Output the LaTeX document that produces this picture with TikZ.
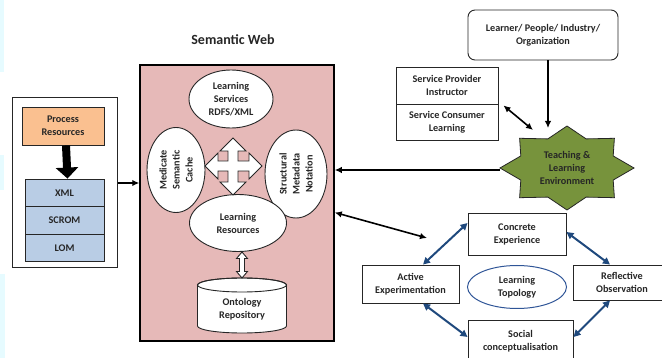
\documentclass[tikz,border=0pt]{standalone}
\usepackage{fontspec}
\setmainfont{Carlito}
\usetikzlibrary{shapes.geometric,arrows.meta,calc}
\definecolor{pinkbg}{HTML}{E6B9B8}
\definecolor{peach}{HTML}{FAC090}
\definecolor{lblue}{HTML}{B9CDE5}
\definecolor{olivegreen}{HTML}{77933C}
\definecolor{navy}{HTML}{1F497D}
\definecolor{topo}{HTML}{2F5597}
\definecolor{ink}{HTML}{262626}
\definecolor{cyanfog}{HTML}{E6FBFF}
\begin{document}
\begin{tikzpicture}[x=1pt,y=-1pt,
  txt/.style={font=\bfseries\fontsize{10.2}{13}\selectfont, align=center, text=ink},
  box/.style={txt, draw=ink, line width=0.9pt, rectangle, inner sep=0pt},
  oval/.style={txt, draw=ink, line width=0.9pt, ellipse, fill=white, inner sep=0pt},
  blk/.style={draw=black, line width=1.6pt, -{Latex[length=7pt,width=6.5pt]}},
  blktwo/.style={draw=black, line width=1.6pt, {Latex[length=7pt,width=6.5pt]}-{Latex[length=7pt,width=6.5pt]}},
  blutwo/.style={draw=navy, line width=2pt, {Triangle[length=7pt,width=7pt]}-{Triangle[length=7pt,width=7pt]}},
  hollow/.style={draw=ink, fill=white, line width=0.9pt, line join=miter},
]
\useasboundingbox (0,0) rectangle (662,358);
\clip (0,0) rectangle (662,358);

% faint background strips at the left edge
\fill[cyanfog] (0,0) rectangle (4,72);
\fill[cyanfog] (0,155) rectangle (4,190);
\fill[cyanfog] (0,274) rectangle (5,358);

% ---------- left block ----------
\node[draw=ink, line width=1pt, minimum width=105, minimum height=170] (lo) at (64.5,183) {};
\node[box, fill=peach, minimum width=82, minimum height=38] (pr) at (63,126) {Process\\Resources};
\node[box, fill=lblue, minimum width=79, minimum height=27.5] (xml) at (64.5,192.75) {XML};
\node[box, fill=lblue, minimum width=79, minimum height=27.5] (scrom) at (64.5,220.25) {SCROM};
\node[box, fill=lblue, minimum width=79, minimum height=27.5] (lom) at (64.5,247.75) {LOM};
\draw[line width=8pt, draw=black, -{Triangle[length=11pt,width=22pt]}] ([xshift=3pt]pr.south) -- ([xshift=3pt]xml.north);

% ---------- semantic web ----------
\node[font=\bfseries\fontsize{14}{16}\selectfont, text=ink] (title) at (233,40) {Semantic Web};
\node[draw=black, fill=pinkbg, line width=1.5pt, minimum width=194, minimum height=276] (sw) at (237,203) {};
\draw[blk] (lo.east) -- (sw.west |- lo.east);

\node[oval, minimum width=84, minimum height=58] (ls) at (231,99) {Learning\\Services\\RDFS/XML};
\node[oval, rotate=90, minimum width=85, minimum height=58] (mc) at (176,170) {Medicate\\Semantic\\Cache};
\node[oval, rotate=90, minimum width=88, minimum height=62] (smn) at (296,174) {Structural\\Metadata\\Notation};
\node[oval, minimum width=97, minimum height=57] (lr) at (238,223) {Learning\\Resources};

% four-way arrow (drawn over the ellipses)
\draw[hollow] (262,166) -- (249,153) -- (249,161) -- (238,161) -- (238,151) -- (246,151) -- (233,138)
  -- (220,151) -- (228,151) -- (228,161) -- (218,161) -- (218,153) -- (205,166)
  -- (218,179) -- (218,171) -- (228,171) -- (228,182) -- (220,182) -- (233,195)
  -- (246,182) -- (238,182) -- (238,171) -- (249,171) -- (249,179) -- cycle;

% cylinder
\filldraw[hollow] (197.5,285) -- (197.5,326) arc[start angle=180, end angle=0, x radius=44.5, y radius=7]
  -- (286.5,285) arc[start angle=0, end angle=-180, x radius=44.5, y radius=7] -- cycle;
\draw[draw=ink, line width=0.9pt] (242,285) ellipse[x radius=44.5, y radius=7];
\node[txt] (onto) at (242,309) {Ontology\\Repository};

% vertical double arrow between resources and repository
\draw[hollow] (242,252) -- (247.5,258.5) -- (244.5,258.5) -- (244.5,271.5) -- (247.5,271.5) -- (242,278)
  -- (236.5,271.5) -- (239.5,271.5) -- (239.5,258.5) -- (236.5,258.5) -- cycle;

% ---------- right top ----------
\node[box, rounded corners=7pt, minimum width=150, minimum height=50] (learn) at (543,35) {Learner/ People/ Industry/\\Organization};
\node[box, minimum width=102, minimum height=37] (sp) at (447,85.5) {Service Provider\\Instructor};
\node[box, minimum width=102, minimum height=36] (sc) at (447,122) {Service Consumer\\Learning};

\begin{scope}[shift={(567,168)}]
\filldraw[fill=olivegreen, draw=black!85, line width=0.8pt, line join=miter]
 (0:67 and 42) -- (22.5:50 and 31.5) -- (45:67 and 42) -- (67.5:50 and 31.5) -- (90:67 and 42) -- (112.5:50 and 31.5)
 -- (135:67 and 42) -- (157.5:50 and 31.5) -- (180:67 and 42) -- (202.5:50 and 31.5) -- (225:67 and 42)
 -- (247.5:50 and 31.5) -- (270:67 and 42) -- (292.5:50 and 31.5) -- (315:67 and 42) -- (337.5:50 and 31.5) -- cycle;
\end{scope}
\node[txt, text=black!85] (tle) at (567,168) {Teaching \&\\Learning\\Environment};
\coordinate (stT) at (548,128);
\coordinate (stNW) at (533,130);
\coordinate (stL) at (500,170);
\coordinate (cyc) at (427,238);

\draw[blk] ([xshift=5pt]learn.south) -- (stT);
\draw[blktwo] ([xshift=5pt,yshift=-1pt]sp.south east) -- (stNW);
\draw[blk] (stL) -- (stL -| sw.east);
\draw[blktwo] ([yshift=-9.5pt]sw.east) -- (cyc);

% ---------- learning cycle ----------
\node[box, fill=white, minimum width=98, minimum height=42] (ce) at (517,234) {Concrete\\Experience};
\node[box, fill=white, minimum width=97, minimum height=38] (ae) at (410.5,284) {Active\\Experimentation};
\node[box, fill=white, minimum width=98, minimum height=35] (ro) at (622,282.5) {Reflective\\Observation};
\node[box, fill=white, minimum width=105, minimum height=42] (soc) at (520.5,341) {Social\\conceptualisation};
\node[txt, ellipse, draw=topo, line width=1pt, inner sep=0pt, minimum width=99, minimum height=43] (topo) at (517,287) {Learning\\Topology};

\draw[blutwo] ([yshift=11pt]ce.west) -- ([xshift=12.5pt]ae.north);
\draw[blutwo] ([yshift=2pt]ce.east) -- ([xshift=-12pt]ro.north);
\draw[blutwo] ([xshift=12.5pt]ae.south) -- ([yshift=4pt]soc.west);
\draw[blutwo] ([yshift=4pt]soc.east) -- ([xshift=-12pt]ro.south);
\end{tikzpicture}
\end{document}
